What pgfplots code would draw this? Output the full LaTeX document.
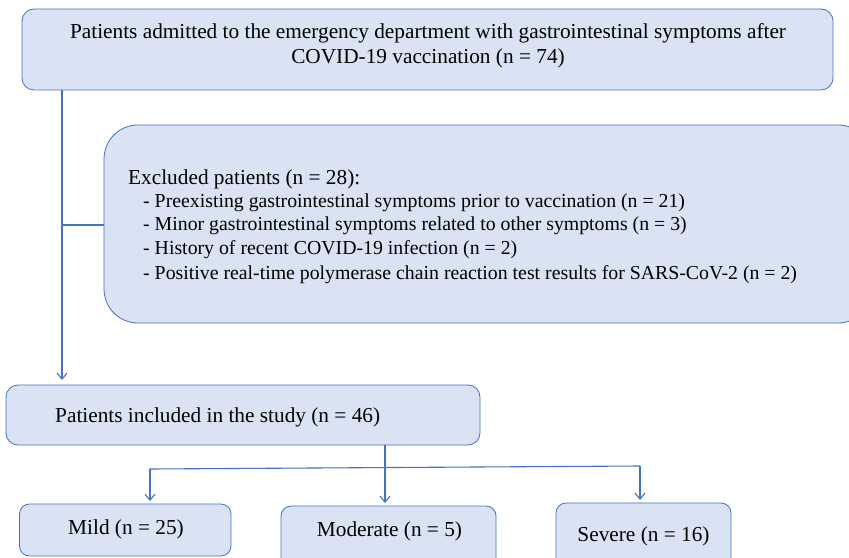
\documentclass[border=0pt]{standalone}
\usepackage{pgfplots}
\pgfplotsset{compat=1.18}
\usepackage{fontspec}
\setmainfont{Liberation Serif}
\usetikzlibrary{arrows.meta}
\definecolor{bfill}{HTML}{DAE3F3}
\definecolor{bline}{HTML}{4472C4}
\tikzset{t/.style={font=\fontsize{21.3bp}{25bp}\selectfont, inner sep=0pt},
         ti/.style={font=\fontsize{19.8bp}{24bp}\selectfont, inner sep=0pt}}
\begin{document}
\begin{tikzpicture}
\begin{axis}[
  hide axis, scale only axis, width=849bp, height=558bp,
  xmin=0, xmax=849, ymin=0, ymax=558, y dir=reverse, clip=false,
]
% boxes
\draw[bline, fill=bfill, line width=0.8pt, rounded corners=12bp] (axis cs:22,9) rectangle (axis cs:833,90);
\draw[bline, fill=bfill, line width=0.8pt, rounded corners=34bp] (axis cs:104,125) rectangle (axis cs:872,323);
\draw[bline, fill=bfill, line width=0.8pt, rounded corners=12bp] (axis cs:6,385) rectangle (axis cs:480,445);
\draw[bline, fill=bfill, line width=0.8pt, rounded corners=10bp] (axis cs:19.5,504) rectangle (axis cs:231,556);
\draw[bline, fill=bfill, line width=0.8pt, rounded corners=10bp] (axis cs:281,506) rectangle (axis cs:496,575);
\draw[bline, fill=bfill, line width=0.8pt, rounded corners=10bp] (axis cs:556,503) rectangle (axis cs:731,575);
% connectors
\addplot[bline, line width=1.1pt, -{Straight Barb[length=6bp,width=10bp]}] coordinates {(62,90) (62,380)};
\addplot[bline, line width=1.1pt] coordinates {(62,225) (104,225)};
\addplot[bline, line width=1.1pt, -{Straight Barb[length=6bp,width=10bp]}] coordinates {(385,445) (385,503)};
\addplot[bline, line width=1.1pt] coordinates {(150,470) (150,469) (640,466)};
\addplot[bline, line width=1.1pt, -{Straight Barb[length=6bp,width=10bp]}] coordinates {(150,469) (150,501)};
\addplot[bline, line width=1.1pt, -{Straight Barb[length=6bp,width=10bp]}] coordinates {(640,466) (640,500)};
% texts
\node[t, anchor=base] at (axis cs:428,39) {Patients admitted to the emergency department with gastrointestinal symptoms after};
\node[t, anchor=base] at (axis cs:428,64) {COVID-19 vaccination (n = 74)};
\node[t, anchor=base west] at (axis cs:128,184) {Excluded patients (n = 28):};
\node[ti, anchor=base west] at (axis cs:143,207) {- Preexisting gastrointestinal symptoms prior to vaccination (n = 21)};
\node[ti, anchor=base west] at (axis cs:143,230) {- Minor gastrointestinal symptoms related to other symptoms (n = 3)};
\node[ti, anchor=base west] at (axis cs:143,254) {- History of recent COVID-19 infection (n = 2)};
\node[ti, anchor=base west] at (axis cs:143,279) {- Positive real-time polymerase chain reaction test results for SARS-CoV-2 (n = 2)};
\node[t, anchor=base west] at (axis cs:55,422) {Patients included in the study (n = 46)};
\node[t, anchor=base] at (axis cs:126,534) {Mild (n = 25)};
\node[t, anchor=base] at (axis cs:389.5,536) {Moderate (n = 5)};
\node[t, anchor=base] at (axis cs:643.5,541) {Severe (n = 16)};
\end{axis}
\pgfresetboundingbox
\useasboundingbox (current axis.south west) rectangle (current axis.north east);
\end{tikzpicture}
\end{document}
